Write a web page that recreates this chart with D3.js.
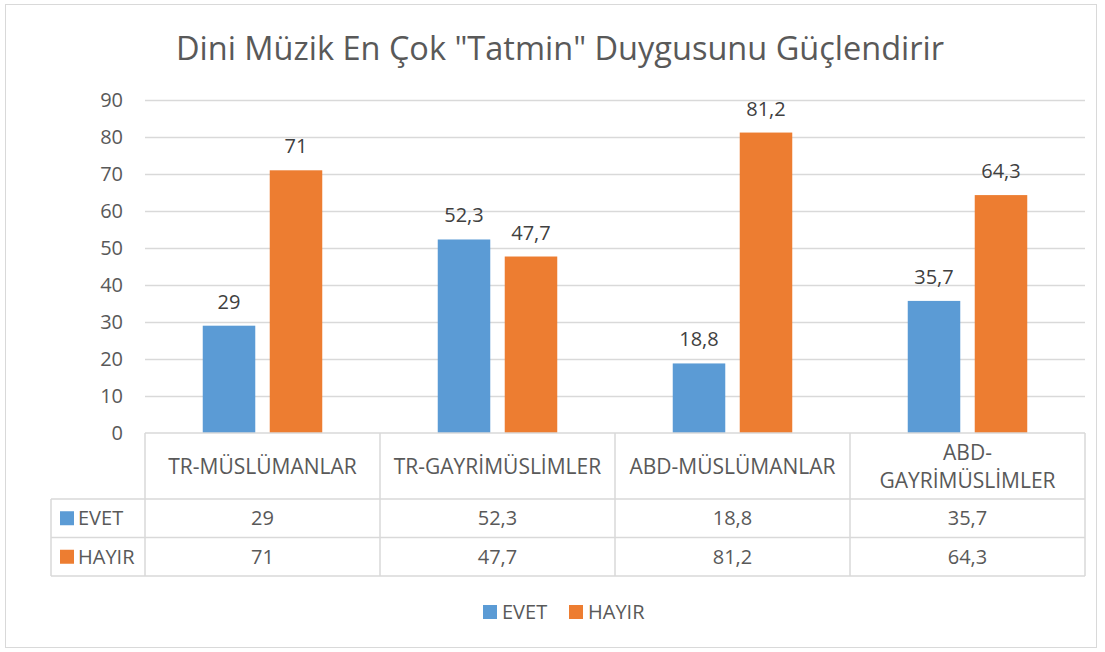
<!DOCTYPE html>
<html>
<head>
<meta charset="utf-8">
<script src="https://cdn.jsdelivr.net/npm/d3@7"></script>
<style>
  body { margin: 0; background: #fff; }
  text { font-family: "Open Sans", sans-serif; fill: #595959; }
</style>
</head>
<body>
<div id="container"></div>
<script>
let categories = [["TR-MÜSLÜMANLAR"], ["TR-GAYRİMÜSLİMLER"], ["ABD-MÜSLÜMANLAR"], ["ABD-", "GAYRİMÜSLİMLER"]];
let seriesNames = ["EVET", "HAYIR"];
let evet = [29, 52.3, 18.8, 35.7];
let hayir = [71, 47.7, 81.2, 64.3];
let yTicks = [0, 10, 20, 30, 40, 50, 60, 70, 80, 90];
let colors = ["#5b9bd5", "#ed7d31"];

let w = 1105;
let h = 652;
let fmt = v => String(v).replace(".", ",");

let viz = d3.select("#container").append("svg")
    .attr("width", w)
    .attr("height", h)
;

// chart frame
viz.append("rect")
  .attr("x", 5.5).attr("y", 4.5)
  .attr("width", 1091).attr("height", 643)
  .attr("fill", "white")
  .attr("stroke", "#d9d9d9")
;

viz.append("text")
  .attr("x", 560).attr("y", 60)
  .attr("text-anchor", "middle")
  .style("font-size", "32.5px")
  .text('Dini Müzik En Çok "Tatmin" Duygusunu Güçlendirir')
;

let x0 = d3.scaleBand().domain(d3.range(categories.length)).range([145, 1085]);
let x1 = d3.scaleBand().domain(seriesNames).range([0, x0.bandwidth()])
  .paddingInner(0.216).paddingOuter(0.862);
let y = d3.scaleLinear().domain([0, 90]).range([433, 100]);

// gridlines
viz.selectAll(".grid").data(yTicks.slice(1)).enter()
  .append("line")
    .attr("x1", 145).attr("x2", 1085)
    .attr("y1", d => Math.round(y(d)) + 0.5)
    .attr("y2", d => Math.round(y(d)) + 0.5)
    .attr("stroke", "#d9d9d9")
    .attr("stroke-width", 1.5)
;

viz.selectAll(".ytick").data(yTicks).enter()
  .append("text")
    .attr("x", 123)
    .attr("y", d => y(d) + 7)
    .attr("text-anchor", "end")
    .style("font-size", "20px")
    .text(d => d)
;

let rows = categories.map((c, i) => ({i: i, vals: [evet[i], hayir[i]]}));

let groups = viz.selectAll(".grp").data(rows).enter()
  .append("g")
    .attr("transform", d => "translate(" + x0(d.i) + ",0)")
;

groups.selectAll("rect").data(d => d.vals.map((v, k) => ({k: k, v: v}))).enter()
  .append("rect")
    .attr("x", d => x1(seriesNames[d.k]))
    .attr("y", d => y(d.v))
    .attr("width", x1.bandwidth())
    .attr("height", d => y(0) - y(d.v))
    .attr("fill", d => colors[d.k])
;

groups.selectAll(".lbl").data(d => d.vals.map((v, k) => ({k: k, v: v}))).enter()
  .append("text")
    .attr("x", d => x1(seriesNames[d.k]) + x1.bandwidth() / 2)
    .attr("y", d => y(d.v) - 17)
    .attr("text-anchor", "middle")
    .style("font-size", "20px")
    .style("fill", "#404040")
    .text(d => fmt(d.v))
;

// data table
let rowY = [433, 499, 537.5, 576];
let tbl = viz.append("g").attr("stroke", "#d9d9d9").attr("stroke-width", 1.5);
tbl.append("line").attr("x1", 145).attr("x2", 1085).attr("y1", rowY[0]).attr("y2", rowY[0]);
rowY.slice(1).forEach(yy => {
  tbl.append("line").attr("x1", 51).attr("x2", 1085).attr("y1", yy).attr("y2", yy);
});
tbl.append("line").attr("x1", 51).attr("x2", 51).attr("y1", rowY[1]).attr("y2", rowY[3]);
d3.range(categories.length + 1).forEach(i => {
  let xx = i < categories.length ? x0(i) : x0.range()[1];
  tbl.append("line").attr("x1", xx).attr("x2", xx).attr("y1", rowY[0]).attr("y2", rowY[3]);
});

categories.forEach((lines, i) => {
  let cx = x0(i) + x0.bandwidth() / 2;
  let top = 474 - (lines.length - 1) * 14;
  lines.forEach((ln, j) => {
    viz.append("text")
      .attr("x", cx).attr("y", top + j * 28)
      .attr("text-anchor", "middle")
      .style("font-size", "21px")
      .text(ln);
  });
});

[evet, hayir].forEach((vals, k) => {
  let cy = (rowY[k + 1] + rowY[k + 2]) / 2;
  viz.append("rect")
    .attr("x", 60).attr("y", cy - 7)
    .attr("width", 14).attr("height", 14)
    .attr("fill", colors[k]);
  viz.append("text")
    .attr("x", 78).attr("y", cy + 7)
    .style("font-size", "20px")
    .text(seriesNames[k]);
  vals.forEach((v, i) => {
    viz.append("text")
      .attr("x", x0(i) + x0.bandwidth() / 2).attr("y", cy + 7)
      .attr("text-anchor", "middle")
      .style("font-size", "20px")
      .text(fmt(v));
  });
});

// legend
let legendX = [483, 569];
seriesNames.forEach((s, k) => {
  viz.append("rect")
    .attr("x", legendX[k]).attr("y", 605)
    .attr("width", 14).attr("height", 14)
    .attr("fill", colors[k]);
  viz.append("text")
    .attr("x", legendX[k] + 19).attr("y", 619)
    .style("font-size", "20px")
    .text(s);
});
</script>
</body>
</html>
